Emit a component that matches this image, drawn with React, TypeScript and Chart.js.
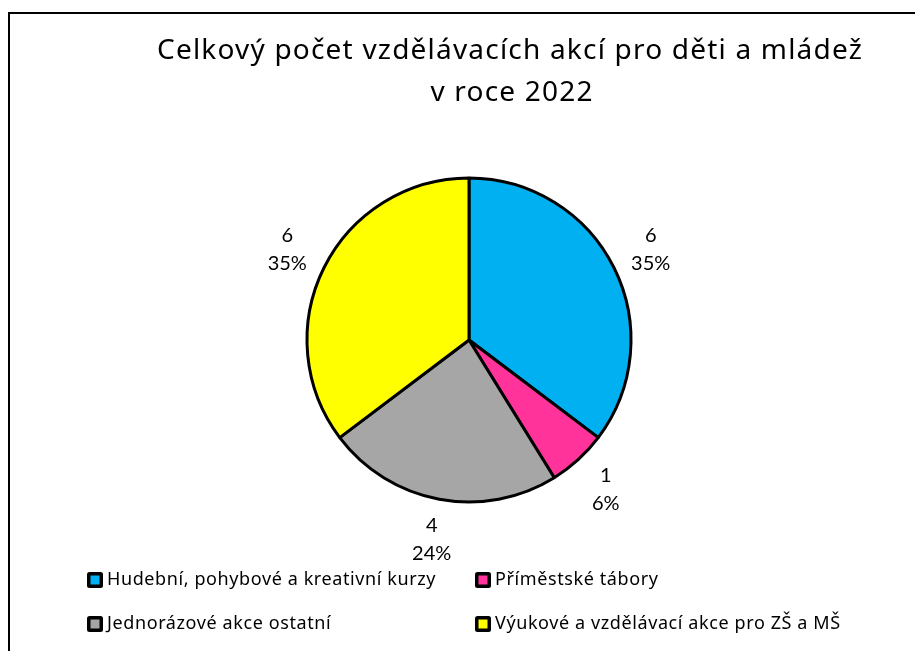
import React, { useEffect, useRef } from "react";
import { Chart, registerables } from "chart.js";

Chart.register(...registerables);

const titleLines = ["Celkový počet vzdělávacích akcí pro děti a mládež", "v roce 2022"];
const categories = [
  "Hudební, pohybové a kreativní kurzy",
  "Příměstské tábory",
  "Jednorázové akce ostatní",
  "Výukové a vzdělávací akce pro ZŠ a MŠ",
];
const values = [6, 1, 4, 6];
const colors = ["#00B0F0", "#FF3399", "#A6A6A6", "#FFFF00"];
const legendOrder = [0, 1, 2, 3];

const TITLE_FONT = "'Noto Sans', 'Open Sans', sans-serif";
const LABEL_FONT = "Lato, 'Noto Sans', sans-serif";
const LEGEND_FONT = "'Noto Sans', 'Open Sans', sans-serif";

const decorPlugin = {
  id: "decor",
  afterDraw(chart: any) {
    const ctx = chart.ctx;
    ctx.save();
    // title
    ctx.fillStyle = "#000";
    ctx.textAlign = "center";
    ctx.textBaseline = "alphabetic";
    ctx.font = `28px ${TITLE_FONT}`;
    (ctx as any).letterSpacing = "1.2px";
    ctx.fillText(titleLines[0], 500, 45);
    ctx.fillText(titleLines[1], 502, 87);
    (ctx as any).letterSpacing = "0px";

    // data labels
    ctx.textBaseline = "middle";
    const meta = chart.getDatasetMeta(0);
    const data = chart.data.datasets[0].data as number[];
    const total = data.reduce((a, b) => a + b, 0);
    ctx.font = `20px ${LABEL_FONT}`;
    meta.data.forEach((arc: any, i: number) => {
      const mid = (arc.startAngle + arc.endAngle) / 2;
      const r = arc.outerRadius + 41;
      const x = arc.x + Math.cos(mid) * r;
      const y = arc.y + Math.sin(mid) * r;
      const pct = Math.round((data[i] / total) * 100) + "%";
      ctx.fillText(String(data[i]), x, y - 14);
      ctx.fillText(pct, x, y + 14);
    });

    // legend
    const cols = [78, 466];
    const rows = [566, 610];
    ctx.font = `18px ${LEGEND_FONT}`;
    (ctx as any).letterSpacing = "0.6px";
    ctx.textAlign = "left";
    ctx.textBaseline = "alphabetic";
    legendOrder.forEach((idx, k) => {
      const cx = cols[k % 2];
      const cy = rows[Math.floor(k / 2)];
      ctx.fillStyle = "#000";
      ctx.beginPath();
      ctx.roundRect(cx - 1, cy - 8, 16, 16, 2.5);
      ctx.fill();
      ctx.fillStyle = colors[idx];
      ctx.fillRect(cx + 2.5, cy - 4.5, 9, 9);
      ctx.fillStyle = "#000";
      ctx.fillText(categories[idx], cx + 19, cy + 5);
    });
    ctx.restore();
  },
};

export default function App() {
  const ref = useRef<HTMLCanvasElement | null>(null);
  useEffect(() => {
    if (!ref.current) return;
    const chart = new Chart(ref.current, {
      type: "pie",
      data: {
        labels: categories,
        datasets: [
          {
            data: values,
            backgroundColor: colors,
            borderColor: "#000",
            borderWidth: 3,
            hoverBorderWidth: 3,
            hoverOffset: 0,
            offset: 0,
          },
        ],
      },
      options: {
        animation: false,
        responsive: false,
        maintainAspectRatio: false,
        layout: { padding: { top: 162.5, bottom: 147.5, left: 259, right: 246 } },
        plugins: {
          legend: { display: false },
          title: { display: false },
          tooltip: { enabled: false },
        },
      },
      plugins: [decorPlugin],
    });
    return () => chart.destroy();
  }, []);

  return (
    <div style={{ position: "fixed", left: 0, top: 0, width: 915, height: 651, overflow: "hidden", background: "#fff" }}>
      <div
        style={{
          position: "absolute",
          left: 8,
          top: 12,
          width: 930,
          height: 670,
          border: "2px solid #000",
          boxSizing: "border-box",
        }}
      >
        <canvas ref={ref} width={905} height={637} style={{ display: "block", width: 905, height: 637 }} />
      </div>
    </div>
  );
}
